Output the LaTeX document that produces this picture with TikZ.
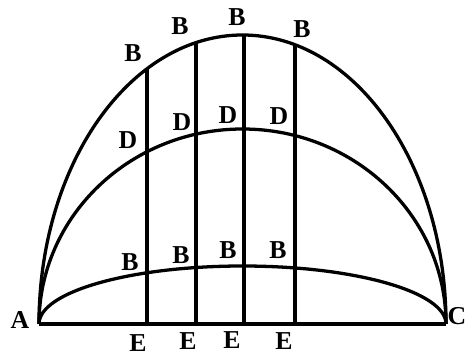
\documentclass[tikz,border=0pt]{standalone}
\usepackage{fontspec}
\setmainfont{Liberation Serif}
\tikzset{
    curve/.style={line width=2.8pt},
    lbl/.style={font=\bfseries\fontsize{22}{22}\selectfont, inner sep=0pt}
}
\begin{document}
\begin{tikzpicture}[x=0.03cm, y=0.03cm]
    \useasboundingbox (0,0) rectangle (467,356);
    \coordinate (A) at (39,32);
    \coordinate (C) at (446,32);

    % base and the three half ellipses
    \draw[curve] (A) -- (C);
    \draw[curve] (A) arc[start angle=180, end angle=0, x radius=203.5, y radius=289];
    \draw[curve] (A) arc[start angle=180, end angle=0, x radius=203.5, y radius=195];
    \draw[curve] (A) arc[start angle=180, end angle=0, x radius=203.5, y radius=58];

    % verticals
    \foreach \i/\xx in {1/147, 2/196, 3/244, 4/295} {
        \coordinate (e\i) at (\xx,32);
        \coordinate (t\i) at (\xx,{32+289*sqrt(1-((\xx-242.5)/203.5)^2)});
        \draw[curve] (e\i) -- (t\i);
    }

    % labels
    \node[lbl] (la) at (20,36) {A};
    \node[lbl] (lc) at (457,40) {C};
    \foreach \i/\p in {1/{133,303}, 2/{180,330}, 3/{237,339}, 4/{302,327}}
        \node[lbl] (bt\i) at (\p) {B};
    \foreach \i/\p in {1/{128,216}, 2/{182,234}, 3/{228,241}, 4/{279,240}}
        \node[lbl] (d\i) at (\p) {D};
    \foreach \i/\p in {1/{130,94}, 2/{181,101}, 3/{228,106}, 4/{278,106}}
        \node[lbl] (bl\i) at (\p) {B};
    \foreach \i/\p in {1/{138,13}, 2/{188,15}, 3/{232,16}, 4/{284,15}}
        \node[lbl] (le\i) at (\p) {E};
\end{tikzpicture}
\end{document}
